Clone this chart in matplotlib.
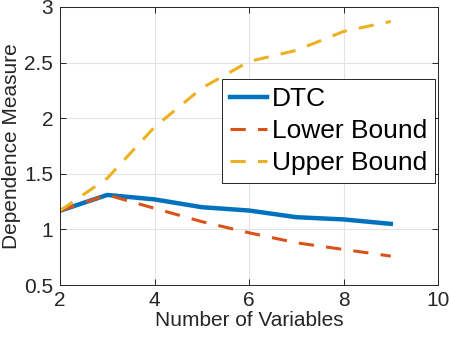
import matplotlib
matplotlib.use("Agg")
import matplotlib.pyplot as plt

plt.rcParams['font.family'] = ['Liberation Sans', 'DejaVu Sans']

# values
n_vars = [2, 3, 4, 5, 6, 7, 8, 9]
dtc = [1.168, 1.31, 1.27, 1.20, 1.17, 1.11, 1.09, 1.05]
lower = [1.168, 1.31, 1.19, 1.07, 0.97, 0.88, 0.82, 0.76]
upper = [1.168, 1.46, 1.92, 2.27, 2.51, 2.61, 2.78, 2.87]

fig = plt.figure(figsize=(4.49, 3.43), dpi=100)
ax = fig.add_axes([0.1336, 0.169, 0.842, 0.8106])

ax.plot(n_vars, dtc, color="#0072BD", lw=3.2, label="DTC")
ax.plot(n_vars, lower, color="#D95319", lw=2.2, dashes=(5, 4), label="Lower Bound")
ax.plot(n_vars, upper, color="#EDB120", lw=2.2, dashes=(5, 4), label="Upper Bound")

ax.set_xlim(2, 10)
ax.set_ylim(0.5, 3)
ax.set_xticks([2, 4, 6, 8, 10])
ax.set_yticks([0.5, 1, 1.5, 2, 2.5, 3])
ax.set_yticklabels(["0.5", "1", "1.5", "2", "2.5", "3"])
ax.grid(True, color="#e3e3e3", lw=0.8)
ax.set_axisbelow(True)
ax.tick_params(direction="in", top=True, right=True, labelsize=15,
               colors="#262626", length=4, width=0.7)
ax.tick_params(axis="x", pad=4)
ax.tick_params(axis="y", pad=5)
for s in ax.spines.values():
    s.set_color("#262626")
    s.set_linewidth(0.7)

ax.set_xlabel("Number of Variables", fontsize=15, color="#262626", labelpad=1)
ax.set_ylabel("Dependence Measure", fontsize=15, color="#262626", labelpad=2)

leg = ax.legend(loc="upper left", bbox_to_anchor=(0.4286, 0.741), borderaxespad=0,
                fontsize=19, fancybox=False, edgecolor="#262626", framealpha=1,
                handlelength=1.4, handletextpad=0.2, borderpad=0.3, labelspacing=0.3)
leg.get_frame().set_linewidth(0.7)

fig.savefig("out.png", dpi=100)
